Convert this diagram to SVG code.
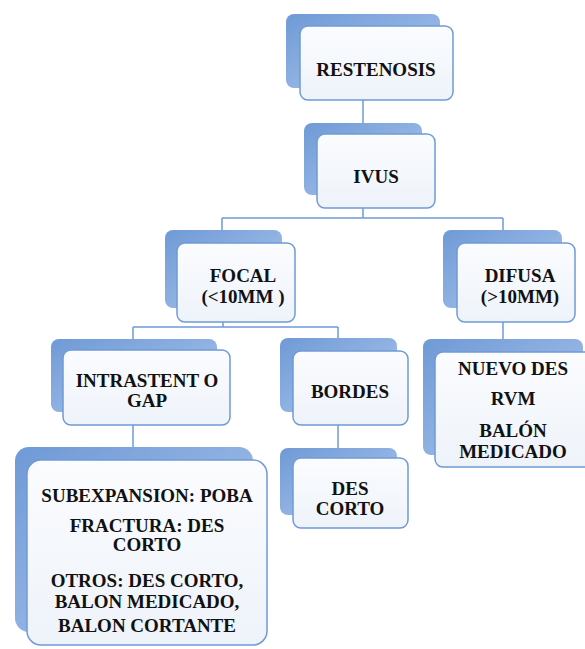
<svg xmlns="http://www.w3.org/2000/svg" width="585" height="649" viewBox="0 0 585 649">
<defs>
<linearGradient id="gBack" x1="0" y1="0" x2="1" y2="1">
<stop offset="0" stop-color="#6f9ad6"/>
<stop offset="0.5" stop-color="#8fb1e2"/>
<stop offset="1" stop-color="#b4cbee"/>
</linearGradient>
<linearGradient id="gFront" x1="0" y1="0" x2="0" y2="1">
<stop offset="0" stop-color="#fbfcfe"/>
<stop offset="1" stop-color="#eef3fa"/>
</linearGradient>
</defs>
<style>
.back{fill:url(#gBack);}
.front{fill:url(#gFront);stroke:#6f9ad6;stroke-width:1.5;}
.conn{fill:none;stroke:#6f9ad6;stroke-width:1.5;}
text{font-family:"Liberation Serif","Times New Roman",serif;font-weight:bold;font-size:19px;fill:#111;text-anchor:middle;}
</style>
<rect width="585" height="649" fill="#ffffff"/>
<g id="connectors">
<path class="conn" d="M363,100 V134"/>
<path class="conn" d="M363,208 V218 M222,218 H503 M222,218 V230 M503,218 V230"/>
<path class="conn" d="M223,322 V327 M133,327 H338 M133,327 V339 M338,327 V338"/>
<path class="conn" d="M503,322 V339"/>
<path class="conn" d="M133,425 V447"/>
<path class="conn" d="M338,425 V448"/>
</g>
<g id="restenosis">
<rect class="back" x="286" y="14" width="154" height="74" rx="8"/>
<rect class="front" x="300" y="26" width="153" height="74" rx="8"/>
<text x="376" y="76">RESTENOSIS</text>
</g>
<g id="ivus">
<rect class="back" x="304" y="123" width="118" height="72" rx="8"/>
<rect class="front" x="317" y="134" width="118" height="74" rx="8"/>
<text x="376" y="183">IVUS</text>
</g>
<g id="focal">
<rect class="back" x="165" y="230" width="117" height="78" rx="8"/>
<rect class="front" x="177" y="243" width="118" height="79" rx="8"/>
<text x="243" y="282">FOCAL</text>
<text x="243" y="303">(&lt;10MM )</text>
</g>
<g id="difusa">
<rect class="back" x="443" y="230" width="119" height="78" rx="8"/>
<rect class="front" x="457" y="243" width="118" height="79" rx="8"/>
<text x="520" y="282">DIFUSA</text>
<text x="520" y="303">(&gt;10MM)</text>
</g>
<g id="intrastent">
<rect class="back" x="51" y="339" width="166" height="73" rx="8"/>
<rect class="front" x="63" y="350" width="167" height="75" rx="8"/>
<text x="147" y="387">INTRASTENT O</text>
<text x="147" y="407">GAP</text>
</g>
<g id="bordes">
<rect class="back" x="280" y="338" width="117" height="74" rx="8"/>
<rect class="front" x="293" y="351" width="115" height="74" rx="8"/>
<text x="350" y="398">BORDES</text>
</g>
<g id="descorto">
<rect class="back" x="280" y="448" width="117" height="67" rx="8"/>
<rect class="front" x="293" y="458" width="115" height="70" rx="8"/>
<text x="350" y="495">DES</text>
<text x="350" y="515">CORTO</text>
</g>
<g id="nuevodes">
<rect class="back" x="423" y="339" width="160" height="116" rx="8"/>
<rect class="front" x="435" y="352" width="160" height="115" rx="8"/>
<text x="513" y="375">NUEVO DES</text>
<text x="513" y="405">RVM</text>
<text x="513" y="437">BALÓN</text>
<text x="513" y="458">MEDICADO</text>
</g>
<g id="subexpansion">
<rect class="back" x="15" y="447" width="238" height="185" rx="14"/>
<rect class="front" x="27" y="460" width="240" height="185" rx="14"/>
<text x="147" y="502">SUBEXPANSION: POBA</text>
<text x="147" y="532">FRACTURA: DES</text>
<text x="147" y="551">CORTO</text>
<text x="147" y="587">OTROS: DES CORTO,</text>
<text x="147" y="608">BALON MEDICADO,</text>
<text x="147" y="632">BALON CORTANTE</text>
</g>
</svg>
